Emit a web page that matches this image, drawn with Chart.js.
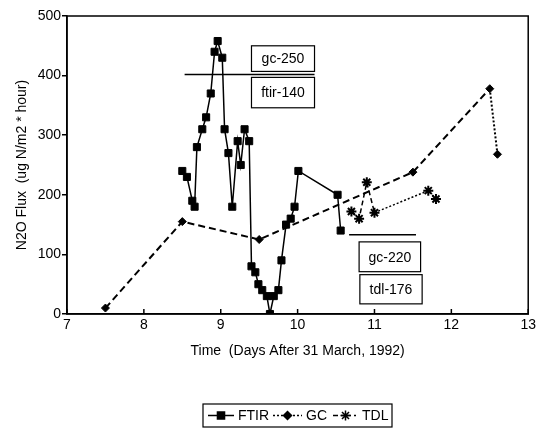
<!DOCTYPE html>
<html>
<head>
<meta charset="utf-8">
<script src="https://cdn.jsdelivr.net/npm/chart.js@4.4.1/dist/chart.umd.min.js"></script>
<style>
  html, body { margin: 0; padding: 0; background: #fff; }
  #wrap { width: 539px; height: 432px; }
</style>
</head>
<body>
<div id="wrap"><canvas id="fluxChart" width="539" height="432"></canvas></div>
<script>
// FTIR series (days after 31 March 1992, N2O flux)
const ftirDays = [8.50, 8.56, 8.63, 8.66, 8.69, 8.76, 8.81, 8.87, 8.92, 8.96, 9.02, 9.05, 9.10, 9.15,
                  9.22, 9.26, 9.31, 9.37, 9.40, 9.45, 9.49, 9.54, 9.60, 9.64, 9.69, 9.75, 9.79, 9.85,
                  9.91, 9.96, 10.01, 10.52, 10.56];
const ftirFlux = [240, 230, 190, 180, 280, 310, 330, 370, 440, 458, 430, 310, 270, 180,
                  290, 250, 310, 290, 80, 70, 50, 40, 30, 0, 30, 40, 90, 150,
                  160, 180, 240, 200, 140];

// GC series
const gcDays = [7.5, 8.5, 9.5, 11.5, 12.5, 12.6];
const gcFlux = [10, 155, 125, 238, 378, 268];

// TDL series
const tdlDays = [10.7, 10.8, 10.9, 11.0, 11.7, 11.8];
const tdlFlux = [172, 160, 221, 170, 207, 193];

// Axis ticks
const xTicks = [7, 8, 9, 10, 11, 12, 13];
const yTicks = [0, 100, 200, 300, 400, 500];

// Text notes on the plot
const noteLabels = ['gc-250', 'ftir-140', 'gc-220', 'tdl-176'];
const seriesNames = ['FTIR', 'GC', 'TDL'];

const FONT = '"Liberation Sans", Arial, sans-serif';

function toPoints(xs, ys) {
    return xs.map((x, i) => ({ x: x, y: ys[i] }));
}

// Note boxes and reference lines, in data units
const noteBoxes = [
    { text: noteLabels[0], x0: 9.40, x1: 10.22, y0: 450, y1: 407 },
    { text: noteLabels[1], x0: 9.40, x1: 10.22, y0: 397, y1: 346 },
    { text: noteLabels[2], x0: 10.80, x1: 11.60, y0: 121, y1: 71 },
    { text: noteLabels[3], x0: 10.81, x1: 11.62, y0: 66, y1: 17 }
];
const noteLines = [
    { x0: 8.53, x1: 10.22, y: 402 },
    { x0: 10.67, x1: 11.54, y: 133 }
];

const decorPlugin = {
    id: 'decor',
    afterDraw(chart) {
        const { ctx, chartArea: a, scales: { x, y } } = chart;
        ctx.save();
        ctx.strokeStyle = '#000';
        ctx.fillStyle = '#000';
        ctx.lineWidth = 1.5;
        ctx.setLineDash([]);
        ctx.strokeRect(a.left, a.top, a.right - a.left, a.bottom - a.top);

        // inward ticks on the time axis
        xTicks.forEach(v => {
            const px = x.getPixelForValue(v);
            ctx.beginPath();
            ctx.moveTo(px, a.bottom);
            ctx.lineTo(px, a.bottom - 5);
            ctx.stroke();
        });

        // reference lines
        noteLines.forEach(l => {
            const py = y.getPixelForValue(l.y);
            ctx.beginPath();
            ctx.moveTo(x.getPixelForValue(l.x0), py);
            ctx.lineTo(x.getPixelForValue(l.x1), py);
            ctx.stroke();
        });

        // boxed notes
        ctx.font = '14px ' + FONT;
        ctx.textAlign = 'center';
        ctx.textBaseline = 'middle';
        ctx.lineWidth = 1.2;
        noteBoxes.forEach(b => {
            const l = x.getPixelForValue(b.x0), r = x.getPixelForValue(b.x1);
            const t = y.getPixelForValue(b.y0), btm = y.getPixelForValue(b.y1);
            ctx.fillStyle = '#fff';
            ctx.fillRect(l, t, r - l, btm - t);
            ctx.strokeRect(l, t, r - l, btm - t);
            ctx.fillStyle = '#000';
            ctx.fillText(b.text, (l + r) / 2, (t + btm) / 2 + 1);
        });

        // legend
        const lx = 203, ly = 404, lw = 189, lh = 23;
        const cy = ly + lh / 2;
        ctx.lineWidth = 1.2;
        ctx.strokeRect(lx, ly, lw, lh);
        ctx.textAlign = 'left';
        const ds = chart.data.datasets;
        const items = [
            { x0: 208, x1: 234, text: seriesNames[0], tx: 238, dash: [] },
            { x0: 273, x1: 302, text: seriesNames[1], tx: 306, dash: [2, 2] },
            { x0: 333, x1: 358, text: seriesNames[2], tx: 362, dash: [5, 3, 2, 3] }
        ];
        items.forEach((it, i) => {
            ctx.strokeStyle = '#000';
            ctx.lineWidth = 1.5;
            ctx.setLineDash(it.dash);
            ctx.beginPath();
            ctx.moveTo(it.x0, cy);
            ctx.lineTo(it.x1, cy);
            ctx.stroke();
            ctx.setLineDash([]);
            Chart.helpers.drawPoint(ctx, {
                pointStyle: ds[i].pointStyle,
                radius: ds[i].pointRadius,
                borderWidth: ds[i].pointBorderWidth || 1,
                rotation: 0
            }, (it.x0 + it.x1) / 2, cy);
            ctx.fillStyle = '#000';
            ctx.fillText(it.text, it.tx, cy + 1);
        });
        ctx.restore();
    }
};

const ctx = document.getElementById('fluxChart').getContext('2d');
const fluxChart = new Chart(ctx, {
    type: 'line',
    data: {
        datasets: [
            {
                label: seriesNames[0],
                data: toPoints(ftirDays, ftirFlux),
                borderColor: '#000',
                backgroundColor: '#000',
                borderWidth: 1.5,
                pointStyle: 'rect',
                pointRadius: 5,
                pointBorderWidth: 1,
                fill: false,
                tension: 0
            },
            {
                label: seriesNames[1],
                data: toPoints(gcDays, gcFlux),
                borderColor: '#000',
                backgroundColor: '#000',
                borderWidth: 2,
                borderDash: [7, 4],
                segment: {
                    borderDash: c => c.p0DataIndex >= 4 ? [2, 2] : undefined
                },
                pointStyle: 'rectRot',
                pointRadius: 4,
                pointBorderWidth: 1,
                fill: false,
                tension: 0
            },
            {
                label: seriesNames[2],
                data: toPoints(tdlDays, tdlFlux),
                borderColor: '#000',
                backgroundColor: '#000',
                borderWidth: 1.5,
                borderDash: [5, 3],
                segment: {
                    borderDash: c => c.p0DataIndex >= 3 ? [2, 2] : undefined
                },
                pointStyle: 'star',
                pointRadius: 5,
                pointBorderWidth: 2,
                fill: false,
                tension: 0
            }
        ]
    },
    options: {
        responsive: false,
        animation: false,
        devicePixelRatio: 1,
        layout: { padding: { left: 0, right: 9, top: 16, bottom: 70 } },
        plugins: {
            legend: { display: false },
            tooltip: { enabled: false }
        },
        scales: {
            x: {
                type: 'linear',
                min: 7,
                max: 13,
                afterBuildTicks: s => { s.ticks = xTicks.map(v => ({ value: v })); },
                afterFit: s => { s.height = 48; },
                ticks: { color: '#000', font: { family: FONT, size: 14 }, padding: 3, maxRotation: 0 },
                grid: { display: false, drawTicks: false },
                border: { display: true, color: '#000', width: 1.5 },
                title: {
                    display: true,
                    text: 'Time  (Days After 31 March, 1992)',
                    color: '#000',
                    font: { family: FONT, size: 14 },
                    padding: { top: 8, bottom: 2 }
                }
            },
            y: {
                type: 'linear',
                min: 0,
                max: 500,
                afterBuildTicks: s => { s.ticks = yTicks.map(v => ({ value: v })); },
                afterFit: s => { s.width = 67; },
                ticks: { color: '#000', font: { family: FONT, size: 14 }, padding: 1 },
                grid: { drawOnChartArea: false, drawTicks: true, tickLength: 5, color: '#000', lineWidth: 1.5 },
                border: { display: true, color: '#000', width: 1.5 },
                title: {
                    display: true,
                    text: 'N2O Flux  (ug N/m2 * hour)',
                    color: '#000',
                    font: { family: FONT, size: 14 },
                    padding: { top: 14, bottom: 0 }
                }
            }
        }
    },
    plugins: [decorPlugin]
});
</script>
</body>
</html>
